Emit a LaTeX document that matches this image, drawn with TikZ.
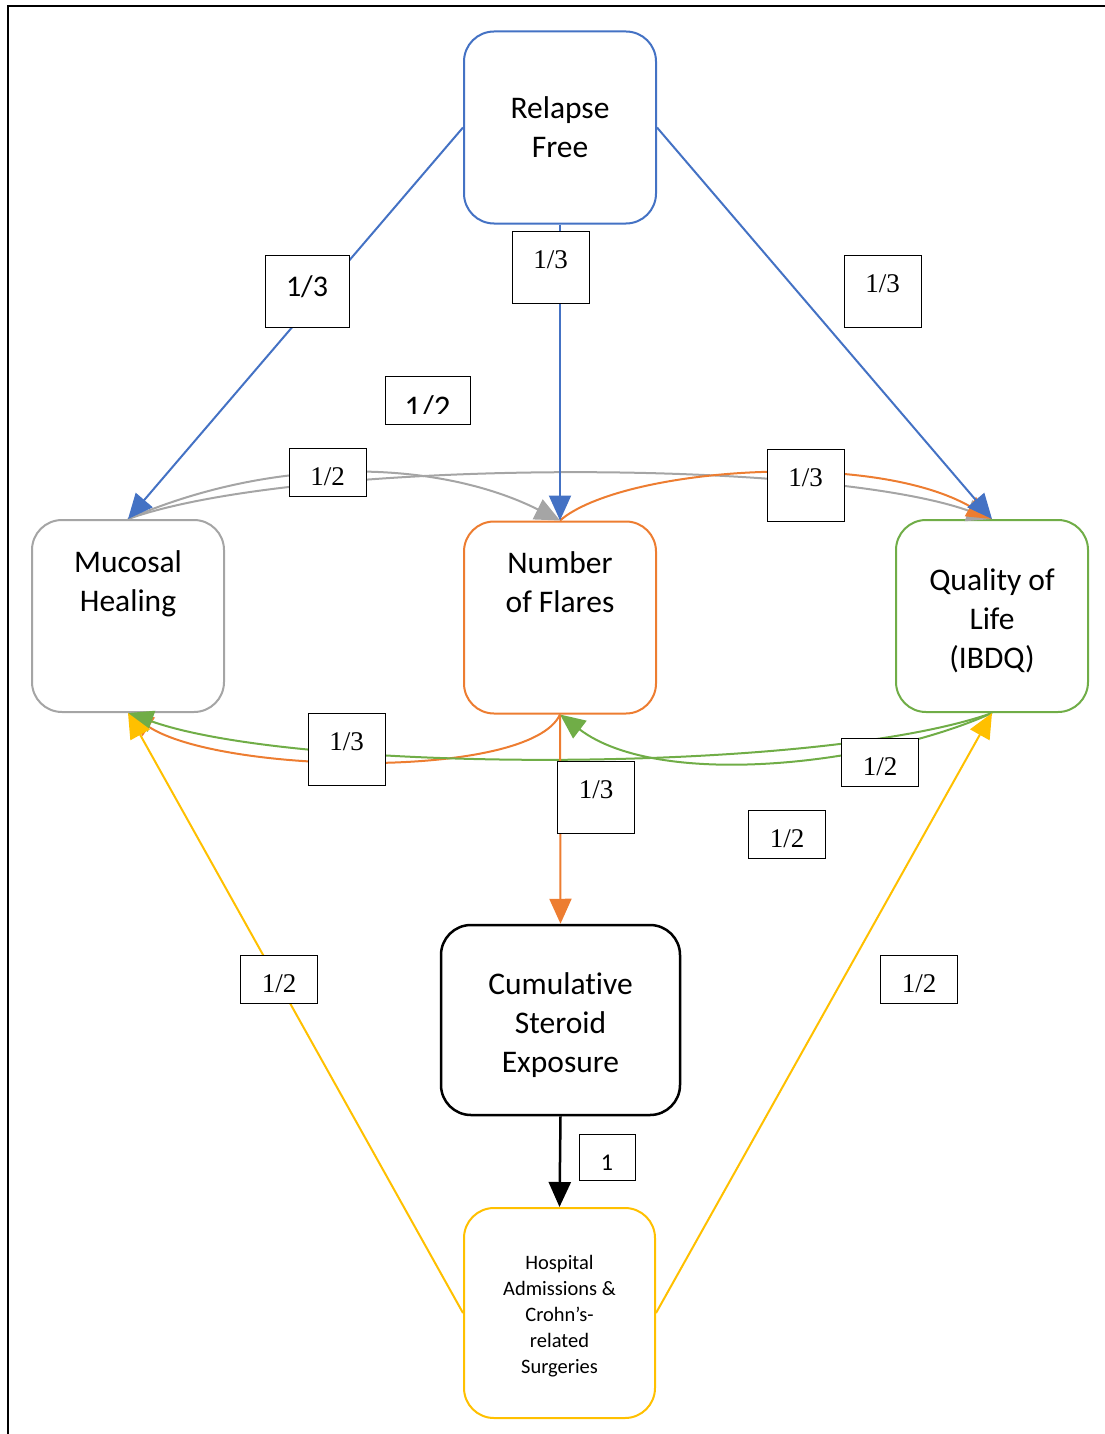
\documentclass[tikz,border=0pt]{standalone}
\usepackage{fontspec}
\setmainfont{Liberation Serif}
\newfontfamily\calibri{Carlito}[Ligatures=CommonOff]
\usetikzlibrary{arrows.meta, positioning, calc}
\definecolor{rfblue}{RGB}{68,114,196}
\definecolor{florange}{RGB}{237,125,49}
\definecolor{mhgray}{RGB}{165,165,165}
\definecolor{qlgreen}{RGB}{112,173,71}
\definecolor{hsyellow}{RGB}{255,192,0}
\newcommand\topgap[1]{\rule{0pt}{#1}}

\begin{document}
\begin{tikzpicture}[x=1pt, y=-1pt,
  outcome/.style={draw, line width=2pt, rounded corners=30pt, fill=white, minimum width=192pt, minimum height=192pt, align=center, inner sep=0pt, font=\calibri\fontsize{31.5}{39}\selectfont},
  toptext/.style={align=center, anchor=north, yshift=-28pt, font=\calibri\fontsize{31.5}{39}\selectfont},
  weight/.style={draw, fill=white, line width=1pt, inner sep=0pt, minimum width=77pt, text height=37pt, text depth=#1, font=\fontsize{27}{30}\selectfont},
  weight/.default=11pt,
  link/.style={line width=2pt, -{Triangle[length=25pt, width=22pt]}}
]
  \useasboundingbox (0,0) rectangle (1104,1434);
  \draw[line width=2pt] (7.5,1450) |- (1120,6);

  % outcomes
  \node[outcome, draw=rfblue] (rf) at (560,127.5) {Relapse\\Free};
  \node[outcome, draw=mhgray, label={[toptext]north:Mucosal\\Healing}] (mh) at (128,616) {};
  \node[outcome, draw=florange, label={[toptext]north:Number\\of Flares}] (fl) at (560,617.5) {};
  \node[outcome, draw=qlgreen] (ql) at (992,616) {\topgap{31.5pt}Quality of\\Life\\(IBDQ)};
  \node[outcome, draw=black, line width=2.5pt, minimum width=239pt, minimum height=190pt] (cs) at (560.5,1020) {\topgap{31.5pt}Cumulative\\Steroid\\Exposure};
  \node[outcome, draw=hsyellow, minimum width=191pt, minimum height=210pt, font=\calibri\fontsize{20.5}{26}\selectfont] (hs) at (559.5,1313) {\topgap{21pt}Hospital\\Admissions \&\\Crohn’s-\\related\\Surgeries};

  % curved links
  \draw[link, mhgray] (mh.north) .. controls +(150,-65) and +(-120,-60) .. (fl.north);
  \draw[link, mhgray] (mh.north) .. controls +(172,-61) and +(-172,-61) .. (ql.north);
  \draw[link, florange] (fl.north) .. controls +(60,-52) and +(-122,-70) .. (ql.north);
  \draw[link, florange] (fl.south) .. controls +(-30,66) and +(92,61) .. (mh.south);
  \draw[link, qlgreen] (ql.south) .. controls +(-172,61) and +(172,61) .. (mh.south);
  \draw[link, qlgreen] (ql.south) .. controls +(-112,51) and +(100,76) .. (fl.south);

  % straight links
  \draw[link, florange] (fl.south) -- (cs.north);
  \draw[link, line width=2.5pt] (cs.south) -- (hs.north);
  \draw[link, hsyellow] (hs.west) -- (mh.south);
  \draw[link, hsyellow] (hs.east) -- (ql.south);
  \draw[link, rfblue] (rf.west) -- (mh.north);
  \draw[link, rfblue] (rf.south) -- (fl.north);
  \draw[link, rfblue] (rf.east) -- (ql.north);

  % weights
  \node[weight=30.5pt, minimum width=84pt, text height=41.5pt, font=\calibri\fontsize{30}{36}\selectfont] (wRM) at (307,291) {1/3};
  \node[weight=35pt] (wRF) at (550.5,267) {1/3};
  \node[weight=35pt] (wRQ) at (882.5,291) {1/3};
  \node[weight] (wMF) at (327.5,472) {1/2};
  \node[weight=35pt] (wFQ) at (805.5,485.5) {1/3};
  \node[weight=35pt] (wFM) at (346.5,749.5) {1/3};
  \node[weight] (wQF) at (880,762) {1/2};
  \node[weight=35pt] (wFC) at (596,797.5) {1/3};
  \node[weight] (wX) at (787,834) {1/2};
  \node[weight] (wHM) at (279,979) {1/2};
  \node[weight] (wHQ) at (919,979) {1/2};
  \node[weight=10pt, minimum width=56pt, text height=36pt, font=\calibri\fontsize{24}{28}\selectfont] (wCH) at (607,1157) {1};
  \node[weight, minimum width=85pt] (wY) at (427.5,400) {};
  \begin{scope}
    \clip (wY.north west) rectangle ([yshift=11pt]wY.south east);
    \node[inner sep=0pt, anchor=base, font=\calibri\fontsize{33}{38}\selectfont] (wYt) at (427.5,418) {1/2};
  \end{scope}
\end{tikzpicture}
\end{document}
